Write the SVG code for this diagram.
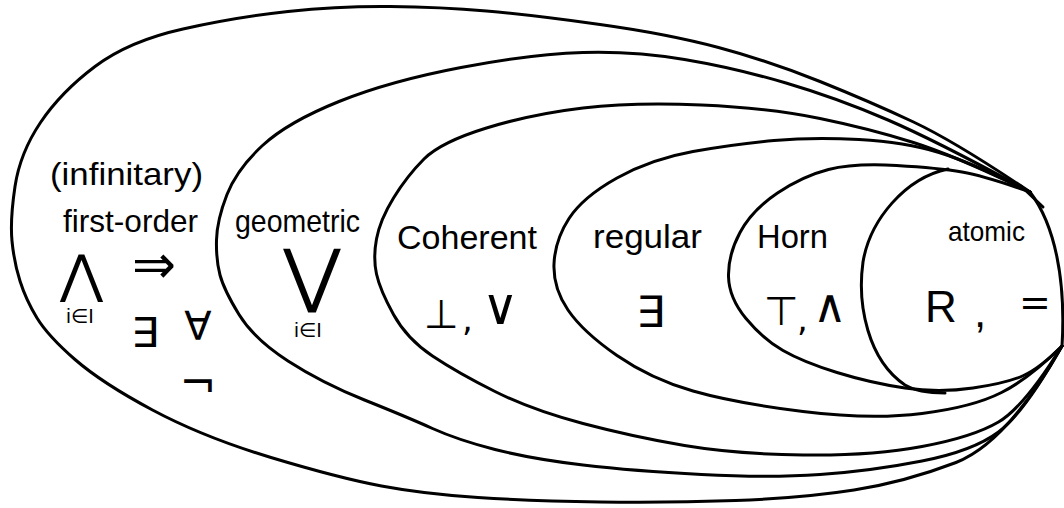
<svg xmlns="http://www.w3.org/2000/svg" width="1064" height="508" viewBox="0 0 1064 508">
<style>
.c{fill:none;stroke:#000;stroke-width:3;stroke-linecap:round;stroke-linejoin:round}
.t{font-family:"Liberation Sans","DejaVu Sans",sans-serif;fill:#000}
.s{font-family:"DejaVu Sans","Liberation Sans",sans-serif;fill:#000}
</style>
<rect width="1064" height="508" fill="#fff"/>
<g id="first-order">
<path class="c" d="M1030,192 Q956,142 913.5,122 Q871,102 820,81.5 Q769,61 718.5,47.5 Q668,34 600,24.5 Q532,15 486.5,11 Q441,7 390,6.5 Q339,6 288,11.5 Q237,17 183,29 Q129,41 95,66.5 Q61,92 40.5,122.5 Q20,153 15,186.5 Q10,220 12,241 Q14,262 20,281 Q26,300 37,318 Q48,336 75,359.5 Q102,383 152.5,410 Q203,437 271,457.5 Q339,478 381.5,486 Q424,494 478,497.5 Q532,501 600,502 Q668,503 735.5,500.5 Q803,498 854,490 Q905,482 956,462.5 Q1007,443 1062,346"/>
<text class="t" x="50" y="185" font-size="32" textLength="153" lengthAdjust="spacingAndGlyphs">(infinitary)</text>
<text class="t" x="63" y="232" font-size="32" textLength="135" lengthAdjust="spacingAndGlyphs">first-order</text>
<text class="s" x="60" y="292" font-size="52" textLength="43" lengthAdjust="spacingAndGlyphs">⋀</text>
<text class="t" x="80" y="323" font-size="20" text-anchor="middle">i∈I</text>
<text class="s" x="132" y="283" font-size="54" textLength="44" lengthAdjust="spacingAndGlyphs">⇒</text>
<text class="s" x="131" y="347" font-size="41" textLength="28" lengthAdjust="spacingAndGlyphs">∃</text>
<text class="s" x="198" y="340" font-size="40" text-anchor="middle">∀</text>
<text class="s" x="198" y="398" font-size="44" text-anchor="middle">¬</text>
</g>
<g id="geometric">
<path class="c" d="M1030,192 Q939,142 888,120 Q837,98 786,83 Q735,68 684.5,59.5 Q634,51 583,52.5 Q532,54 461,67.5 Q390,81 339,101.5 Q288,122 262.5,145.5 Q237,169 227,194.5 Q217,220 216.5,240 Q216,260 220,275 Q224,290 239,314.5 Q254,339 288,361 Q322,383 364.5,400 Q407,417 432.5,428.5 Q458,440 495,449.5 Q532,459 583,465 Q634,471 701.5,474.5 Q769,478 820,474.5 Q871,471 922,461 Q973,451 998.5,432 Q1024,413 1062,346"/>
<text class="t" x="235" y="232" font-size="32" textLength="125" lengthAdjust="spacingAndGlyphs">geometric</text>
<text class="s" x="312" y="299" font-size="70" text-anchor="middle">⋁</text>
<text class="t" x="308" y="337" font-size="20" text-anchor="middle">i∈I</text>
</g>
<g id="coherent">
<path class="c" d="M1030,192 Q956,156 913.5,142.5 Q871,129 820,118.5 Q769,108 701.5,105 Q634,102 583,108 Q532,114 486.5,128 Q441,142 424,159 Q407,176 393.5,198 Q380,220 376.5,239 Q373,258 376.5,274 Q380,290 393.5,314.5 Q407,339 432.5,356 Q458,373 495,391.5 Q532,410 583,423.5 Q634,437 684.5,445.5 Q735,454 803,455 Q871,456 922,446.5 Q973,437 998.5,422 Q1024,407 1062,346"/>
<text class="t" x="397" y="249" font-size="34" textLength="140" lengthAdjust="spacingAndGlyphs">Coherent</text>
<text class="s"><tspan x="424" y="328" font-size="40">⊥</tspan><tspan x="462" y="331" font-size="34">,</tspan><tspan x="482" y="324" font-size="50">∨</tspan></text>
</g>
<g id="regular">
<path class="c" d="M1030,192 Q973,163 939,152.5 Q905,142 859,139.5 Q813,137 774,140.5 Q735,144 693,151.5 Q651,159 617,178 Q583,197 569,218.5 Q555,240 554,264 Q553,288 568,310 Q583,332 617,355.5 Q651,379 693,391 Q735,403 803,411.5 Q871,420 922,413.5 Q973,407 1001.5,392.5 Q1030,378 1062,346"/>
<text class="t" x="593" y="248" font-size="34" textLength="109" lengthAdjust="spacingAndGlyphs">regular</text>
<text class="s" x="636" y="327" font-size="43" textLength="29" lengthAdjust="spacingAndGlyphs">∃</text>
</g>
<g id="horn">
<path class="c" d="M1030,192 Q985,176 962,172 Q939,168 896.5,165.5 Q854,163 828.5,169.5 Q803,176 777.5,193 Q752,210 740,232.5 Q728,255 728.5,276.5 Q729,298 746,318.5 Q763,339 783,350.5 Q803,362 837,372.5 Q871,383 905,388 Q939,393 973,388 Q1007,383 1023.5,375.5 Q1040,368 1062,346"/>
<text class="t" x="757" y="248" font-size="34" textLength="71" lengthAdjust="spacingAndGlyphs">Horn</text>
<text class="s"><tspan x="764" y="325" font-size="40">⊤</tspan><tspan x="797" y="331" font-size="34">,</tspan><tspan x="813" y="322" font-size="46">∧</tspan></text>
</g>
<g id="atomic">
<path class="c" d="M948,169 C905,178 870,220 863,262 C857,305 868,360 905,385 C915,391 930,393 945,393"/>
<path class="c" d="M1030,192 C1055,225 1066,280 1062,346"/>
<path class="c" d="M1021,186 L1043,207"/>
<text class="t" x="948" y="241" font-size="28" textLength="77" lengthAdjust="spacingAndGlyphs">atomic</text>
<text class="t" font-size="44"><tspan x="925" y="322">R</tspan><tspan x="974" y="327">,</tspan></text>
<text class="s" x="1019" y="315" font-size="38">=</text>
</g>
<g id="connectors"/>
</svg>
